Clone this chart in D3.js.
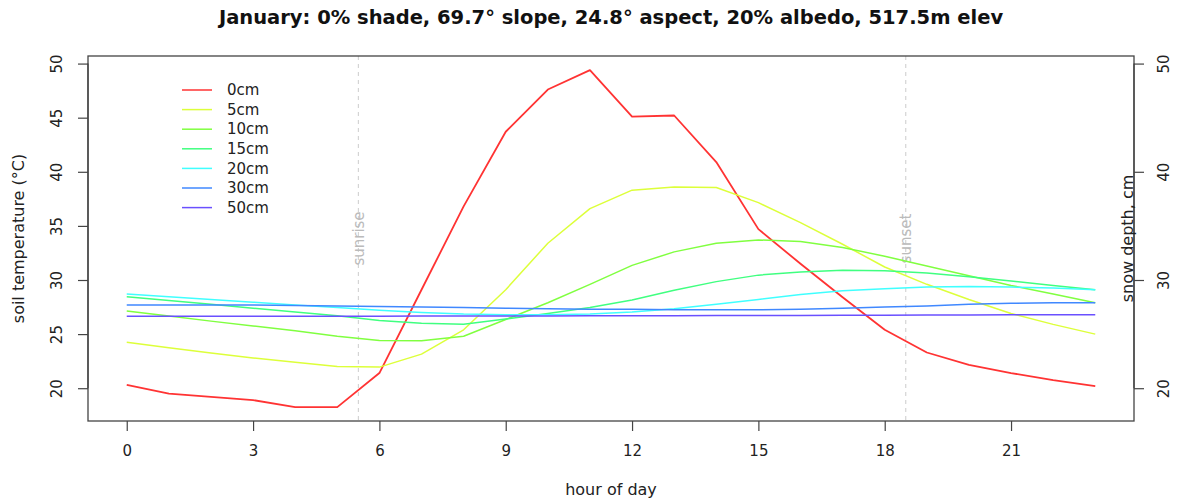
<!DOCTYPE html>
<html><head><meta charset="utf-8">
<script src="https://cdn.jsdelivr.net/npm/d3@7"></script>
<style>body{margin:0;background:#fff}svg text{font-family:"DejaVu Sans",sans-serif}</style>
</head><body><svg id="c" width="1177" height="499"></svg>
<script>
const hours = [0,1,2,3,4,5,6,7,8,9,10,11,12,13,14,15,16,17,18,19,20,21,22,23];
const depths = ["0cm","5cm","10cm","15cm","20cm","30cm","50cm"];
const colors = ["#ff3333","#ddff3a","#80ff40","#40ff80","#40ffff","#4088ff","#6a50ff"];
const t0cm  = [20.3,19.5,19.2,18.9,18.25,18.25,21.4,29.1,36.8,43.7,47.6,49.4,45.1,45.2,40.9,34.7,31.5,28.4,25.4,23.3,22.15,21.4,20.75,20.2];
const t5cm  = [24.25,23.75,23.25,22.8,22.4,22.0,21.95,23.15,25.4,29.1,33.4,36.6,38.3,38.6,38.55,37.15,35.3,33.3,31.2,29.6,28.2,26.9,25.9,25.0];
const t10cm = [27.13,26.67,26.2,25.75,25.3,24.8,24.4,24.38,24.8,26.35,27.9,29.6,31.35,32.6,33.4,33.7,33.55,33.0,32.2,31.3,30.4,29.5,28.7,27.9];
const t15cm = [28.45,28.1,27.75,27.4,27.05,26.7,26.25,26.0,25.9,26.4,26.9,27.45,28.15,29.05,29.85,30.45,30.75,30.9,30.85,30.65,30.3,29.9,29.5,29.1];
const t20cm = [28.7,28.45,28.2,27.95,27.7,27.45,27.2,27.0,26.85,26.8,26.8,26.85,27.05,27.35,27.75,28.2,28.65,29.0,29.2,29.35,29.4,29.35,29.25,29.1];
const t30cm = [27.7,27.7,27.7,27.7,27.65,27.6,27.55,27.5,27.45,27.4,27.35,27.3,27.3,27.25,27.25,27.25,27.3,27.4,27.5,27.6,27.75,27.85,27.9,27.9];
const t50cm = [26.65,26.65,26.65,26.65,26.65,26.66,26.66,26.67,26.67,26.68,26.68,26.69,26.7,26.7,26.71,26.72,26.73,26.74,26.75,26.76,26.77,26.78,26.79,26.8];
const series = [t0cm,t5cm,t10cm,t15cm,t20cm,t30cm,t50cm];
const xTicks = [0,3,6,9,12,15,18,21];
const yTicks = [20,25,30,35,40,45,50];
const snowTicks = [20,30,40,50];
const sunEvents = [{label:"sunrise", hour:5.5},{label:"sunset", hour:18.5}];
const title = "January: 0% shade, 69.7° slope, 24.8° aspect, 20% albedo, 517.5m elev";

const L=88,R=1134,T=56,B=421;
const svg=d3.select("#c");
const x=d3.scaleLinear().domain([-0.92,23.92]).range([L,R]);
const y=d3.scaleLinear().domain([16.97,50.7]).range([B,T]);

// sunrise / sunset
sunEvents.forEach(e=>{
  svg.append("line").attr("x1",x(e.hour)).attr("x2",x(e.hour)).attr("y1",T).attr("y2",B)
    .attr("stroke","#cccccc").attr("stroke-width",1).attr("stroke-dasharray","4,4");
  svg.append("text").attr("transform",`translate(${x(e.hour)},${(T+B)/2}) rotate(-90)`)
    .attr("text-anchor","middle").attr("dy","0.35em").attr("font-size",15).attr("fill","#bbbbbb").text(e.label);
});

// lines
const line=d3.line().x((d,i)=>x(hours[i])).y(d=>y(d));
series.forEach((s,i)=>{
  svg.append("path").datum(s).attr("d",line).attr("fill","none")
    .attr("stroke",colors[i]).attr("stroke-width",i==0?1.8:1.5).attr("stroke-linejoin","round");
});

// box
svg.append("rect").attr("x",L).attr("y",T).attr("width",R-L).attr("height",B-T)
  .attr("fill","none").attr("stroke","#444").attr("stroke-width",1.3);

// bottom axis
const gx=svg.append("g").attr("transform",`translate(0,${B})`)
  .call(d3.axisBottom(x).tickValues(xTicks).tickSize(10).tickPadding(14));
gx.select(".domain").remove();
gx.selectAll("line").attr("stroke","#444").attr("stroke-width",1.2);
gx.selectAll("text").attr("font-size",15).attr("fill","#222").attr("font-family","DejaVu Sans");

// left axis
const gy=svg.append("g").attr("transform",`translate(${L},0)`)
  .call(d3.axisLeft(y).tickValues(yTicks).tickSize(10));
gy.select(".domain").attr("d",`M0,${y(20)}V${y(50)}`).attr("stroke","#444").attr("stroke-width",1.3);
gy.selectAll("line").attr("stroke","#444").attr("stroke-width",1.2);
gy.selectAll(".tick text").attr("x",null).attr("dy","0.35em").attr("text-anchor","middle")
  .attr("transform","translate(-31,0) rotate(-90)").attr("font-size",15).attr("fill","#222").attr("font-family","DejaVu Sans");

// right axis
const gr=svg.append("g").attr("transform",`translate(${R},0)`)
  .call(d3.axisRight(y).tickValues(snowTicks).tickSize(10));
gr.select(".domain").attr("d",`M0,${y(20)}V${y(50)}`).attr("stroke","#444").attr("stroke-width",1.3);
gr.selectAll("line").attr("stroke","#444").attr("stroke-width",1.2);
gr.selectAll(".tick text").attr("x",null).attr("dy","0.35em").attr("text-anchor","middle")
  .attr("transform","translate(30,0) rotate(-90)").attr("font-size",15).attr("fill","#222").attr("font-family","DejaVu Sans");

// axis titles
svg.append("text").attr("x",(L+R)/2).attr("y",495).attr("text-anchor","middle").attr("font-size",16).attr("fill","#222").text("hour of day");
svg.append("text").attr("transform",`translate(18,${(T+B)/2}) rotate(-90)`).attr("text-anchor","middle").attr("dy","0.35em")
  .attr("font-size",16).attr("fill","#222").text("soil temperature (°C)");
svg.append("text").attr("transform",`translate(1127,${(T+B)/2}) rotate(-90)`).attr("text-anchor","middle").attr("dy","0.35em")
  .attr("font-size",16).attr("fill","#222").text("snow depth, cm");

// title
svg.append("text").attr("x",(L+R)/2).attr("y",24).attr("text-anchor","middle").attr("font-size",19.5)
  .attr("font-weight","bold").attr("fill","#111").text(title);

// legend
const lg=svg.append("g");
depths.forEach((d,i)=>{
  const yy=90+i*19.6;
  lg.append("line").attr("x1",182).attr("x2",212).attr("y1",yy).attr("y2",yy).attr("stroke",colors[i]).attr("stroke-width",1.5);
  lg.append("text").attr("x",227).attr("y",yy).attr("dy","0.35em").attr("font-size",15).attr("fill","#222").text(d);
});
</script></body></html>
